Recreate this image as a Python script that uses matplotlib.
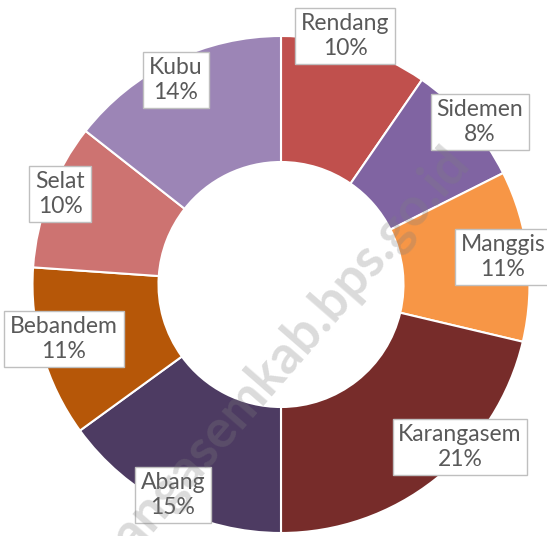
import matplotlib
matplotlib.use("Agg")
import matplotlib.pyplot as plt

# shares (percent of the ring)
districts = ["Rendang", "Sidemen", "Manggis", "Karangasem", "Abang", "Bebandem", "Selat", "Kubu"]
shares = [9.6, 8.0, 11.1, 21.3, 15.0, 11.1, 9.5, 14.4]
# percentages as printed in the data labels
pct_labels = ["10%", "8%", "11%", "21%", "15%", "11%", "10%", "14%"]
colors = ["#C0504D", "#8064A2", "#F79646", "#772C2A", "#4D3B62", "#B65708", "#CD7371", "#9C85B6"]

# label box centres in pixels (x from left, y from top)
label_pos = [(345, 36), (480, 122), (503, 257), (460, 447),
             (173, 495), (64, 339), (60, 194), (176, 80)]

W, H = 547, 536
cx, cy, r = 281, 284.5, 248.5

fig = plt.figure(figsize=(W / 100, H / 100), dpi=100)
ax = fig.add_axes([(cx - r) / W, (H - cy - r) / H, 2 * r / W, 2 * r / H])
ax.pie(shares, colors=colors, startangle=90, counterclock=False, radius=1,
       wedgeprops=dict(width=126 / r, edgecolor="white", linewidth=1.5))
ax.set_xlim(-1, 1)
ax.set_ylim(-1, 1)
ax.set_aspect("equal")
ax.axis("off")

for name, pct, (x, y) in zip(districts, pct_labels, label_pos):
    fig.text(x / W, 1 - y / H, f"{name}\n{pct}", ha="center", va="center",
             fontsize=16.5, family="Lato", color="#595959", linespacing=1.2, zorder=3,
             bbox=dict(boxstyle="square,pad=0.25", facecolor="white", edgecolor="#BFBFBF", linewidth=1))

# watermark, drawn over everything
fig.text(266 / W, 1 - 376 / H, "karangasemkab.bps.go.id", fontsize=38, fontweight="bold",
         family="Lato", color="#7F7F7F", alpha=0.28, rotation=49, zorder=10,
         ha="center", va="center", rotation_mode="anchor")

fig.savefig("out.png", dpi=100)
